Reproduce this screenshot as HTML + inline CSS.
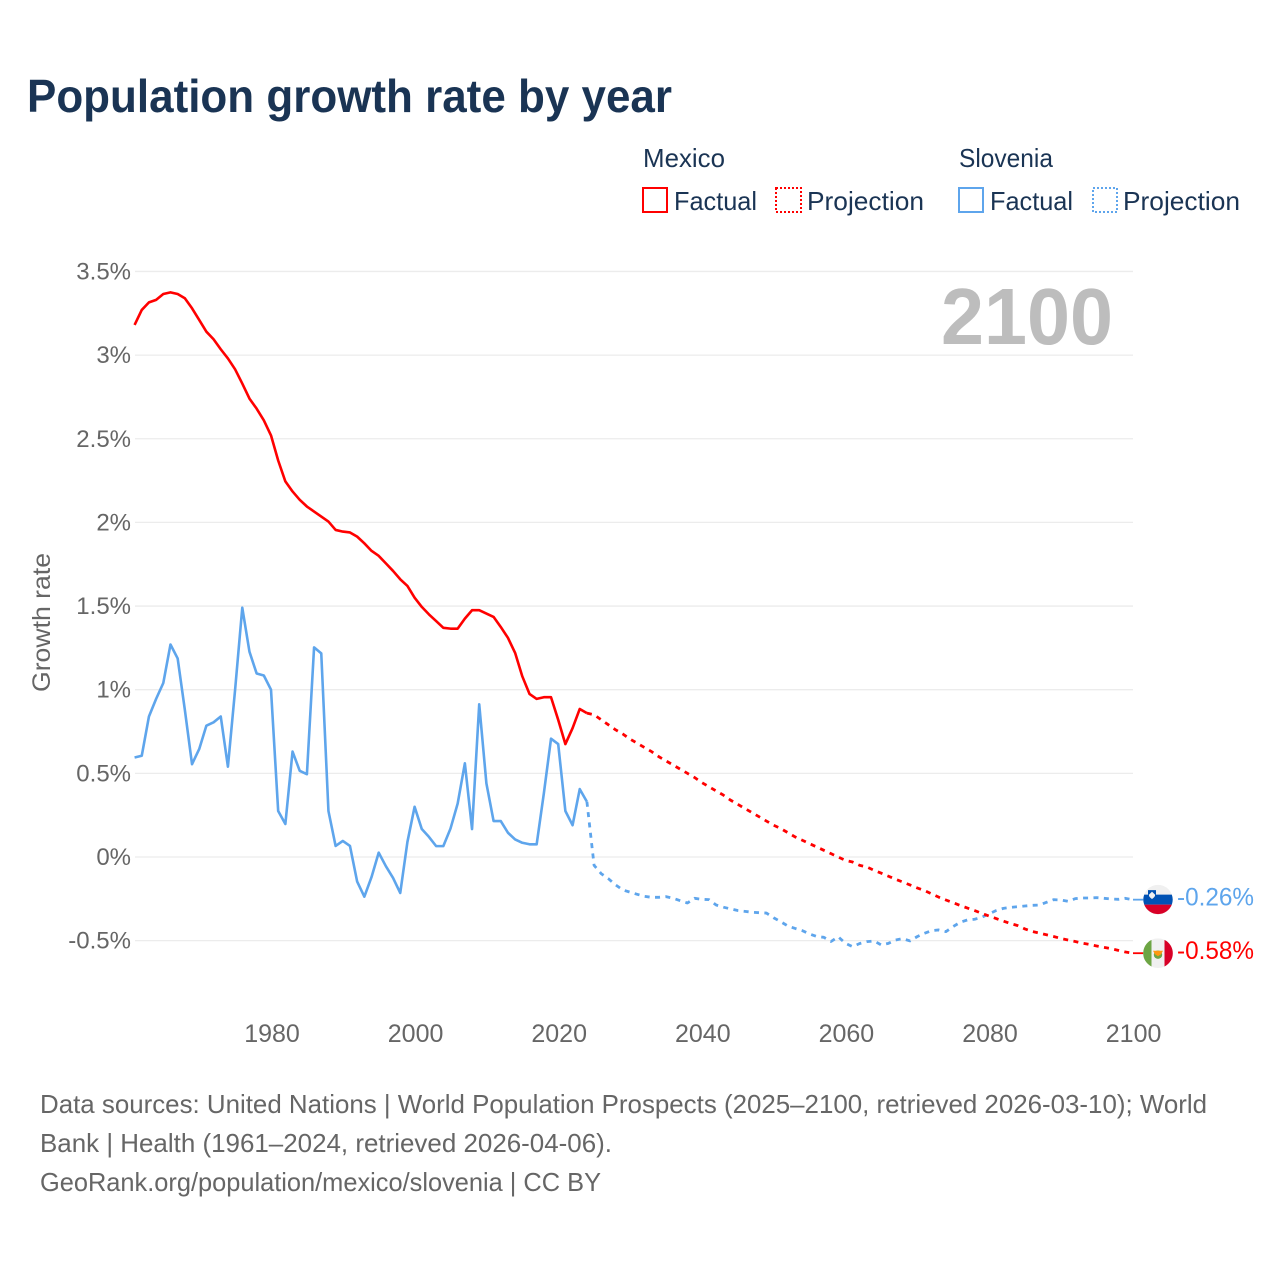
<!DOCTYPE html>
<html lang="en">
<head>
<meta charset="utf-8">
<title>Population growth rate by year</title>
<style>
html,body{margin:0;padding:0;background:#fff;}
svg{display:block;font-family:"Liberation Sans",sans-serif;}
</style>
</head>
<body>
<svg id="chart" xmlns="http://www.w3.org/2000/svg" width="1280" height="1280" viewBox="0 0 1280 1280">
  <rect x="0" y="0" width="1280" height="1280" fill="#fff"/>
  <text x="27" y="112" font-size="46" font-weight="700" fill="#1a3454" textLength="645" lengthAdjust="spacingAndGlyphs">Population growth rate by year</text>

  <g font-size="26" fill="#1a3454">
    <text x="643" y="167" textLength="82" lengthAdjust="spacingAndGlyphs">Mexico</text>
    <text x="959" y="167" textLength="94" lengthAdjust="spacingAndGlyphs">Slovenia</text>
    <g>
      <rect x="643" y="188" width="24" height="24" fill="none" stroke="#ff0000" stroke-width="2"/>
      <text x="674" y="210" textLength="83" lengthAdjust="spacingAndGlyphs">Factual</text>
    </g>
    <g>
      <rect x="776" y="188" width="25" height="24" fill="none" stroke="#ff0000" stroke-width="2" stroke-dasharray="2 2"/>
      <text x="807" y="210" textLength="117" lengthAdjust="spacingAndGlyphs">Projection</text>
    </g>
    <g>
      <rect x="959" y="188" width="24" height="24" fill="none" stroke="#5ea5ec" stroke-width="2"/>
      <text x="990" y="210" textLength="83" lengthAdjust="spacingAndGlyphs">Factual</text>
    </g>
    <g>
      <rect x="1093" y="188" width="24" height="24" fill="none" stroke="#5ea5ec" stroke-width="2" stroke-dasharray="2 2"/>
      <text x="1123" y="210" textLength="117" lengthAdjust="spacingAndGlyphs">Projection</text>
    </g>
  </g>

  <g id="grid"></g>
  <g id="yticks"></g>
  <g id="xticks"></g>

  <text transform="translate(50,622.5) rotate(-90)" text-anchor="middle" font-size="25" fill="#666" textLength="139" lengthAdjust="spacingAndGlyphs">Growth rate</text>
  <text x="941" y="344" font-size="80" font-weight="700" fill="#bdbdbd" textLength="172" lengthAdjust="spacingAndGlyphs">2100</text>

  <g id="series"></g>
  <g id="endmarks"></g>

  <g font-size="26" fill="#666">
    <text x="40" y="1113" textLength="1167" lengthAdjust="spacingAndGlyphs">Data sources: United Nations | World Population Prospects (2025–2100, retrieved 2026-03-10); World</text>
    <text x="40" y="1152" textLength="572" lengthAdjust="spacingAndGlyphs">Bank | Health (1961–2024, retrieved 2026-04-06).</text>
    <text x="40" y="1191" textLength="561" lengthAdjust="spacingAndGlyphs">GeoRank.org/population/mexico/slovenia | CC BY</text>
  </g>
</svg>
<script>
const yTickValues = [-0.5, 0, 0.5, 1, 1.5, 2, 2.5, 3, 3.5];
const yTickLabels = ["-0.5%", "0%", "0.5%", "1%", "1.5%", "2%", "2.5%", "3%", "3.5%"];
const xTickYears = [1980, 2000, 2020, 2040, 2060, 2080, 2100];
const factualStartYear = [1961];
const projectionStartYear = [2024];

const mexicoFactual = [
  3.18, 3.27, 3.315, 3.33, 3.365, 3.375, 3.365, 3.34, 3.28, 3.21,
  3.14, 3.095, 3.035, 2.98, 2.915, 2.83, 2.74, 2.68, 2.61, 2.52,
  2.37, 2.245, 2.185, 2.135, 2.095, 2.065, 2.035, 2.005, 1.955, 1.945,
  1.94, 1.915, 1.875, 1.83, 1.80, 1.755, 1.71, 1.66, 1.62, 1.55,
  1.495, 1.45, 1.41, 1.37, 1.365, 1.365, 1.425, 1.475, 1.475, 1.455,
  1.435, 1.375, 1.31, 1.22, 1.08, 0.975, 0.945, 0.955, 0.955, 0.82,
  0.675, 0.77, 0.885, 0.86
];
const mexicoProjection = [
  0.86, 0.85, 0.82, 0.79, 0.76, 0.735, 0.705, 0.68, 0.655, 0.63,
  0.60, 0.575, 0.55, 0.525, 0.50, 0.475, 0.445, 0.42, 0.395, 0.37,
  0.34, 0.315, 0.29, 0.265, 0.24, 0.215, 0.19, 0.17, 0.145, 0.12,
  0.10, 0.08, 0.06, 0.04, 0.02, 0, -0.02, -0.03, -0.05, -0.06,
  -0.08, -0.097, -0.115, -0.133, -0.15, -0.167, -0.185, -0.20, -0.22, -0.24,
  -0.257, -0.273, -0.29, -0.305, -0.32, -0.337, -0.353, -0.368, -0.383, -0.398,
  -0.41, -0.43, -0.445, -0.455, -0.465, -0.475, -0.487, -0.496, -0.505, -0.515,
  -0.523, -0.532, -0.54, -0.548, -0.558, -0.568, -0.575
];
const sloveniaFactual = [
  0.595, 0.605, 0.84, 0.945, 1.04, 1.27, 1.187, 0.88, 0.555, 0.645,
  0.785, 0.805, 0.84, 0.54, 1.0, 1.49, 1.227, 1.097, 1.085, 1.0,
  0.275, 0.197, 0.63, 0.515, 0.495, 1.253, 1.217, 0.275, 0.066, 0.096,
  0.066, -0.147, -0.237, -0.12, 0.026, -0.055, -0.125, -0.215, 0.09, 0.30,
  0.167, 0.12, 0.065, 0.065, 0.17, 0.32, 0.56, 0.167, 0.913, 0.44,
  0.215, 0.215, 0.145, 0.105, 0.085, 0.076, 0.076, 0.38, 0.707, 0.675,
  0.275, 0.19, 0.406, 0.33
];
const sloveniaProjection = [
  0.33, -0.05, -0.10, -0.13, -0.167, -0.197, -0.21, -0.223, -0.235, -0.241,
  -0.241, -0.237, -0.247, -0.261, -0.275, -0.247, -0.253, -0.255, -0.287, -0.30,
  -0.31, -0.32, -0.325, -0.33, -0.333, -0.335, -0.363, -0.387, -0.413, -0.427,
  -0.44, -0.46, -0.475, -0.48, -0.505, -0.477, -0.516, -0.536, -0.517, -0.506,
  -0.502, -0.526, -0.516, -0.496, -0.488, -0.502, -0.476, -0.456, -0.44, -0.436,
  -0.446, -0.416, -0.39, -0.376, -0.372, -0.36, -0.34, -0.32, -0.307, -0.301,
  -0.297, -0.293, -0.289, -0.287, -0.271, -0.255, -0.257, -0.265, -0.249, -0.245,
  -0.245, -0.243, -0.247, -0.251, -0.253, -0.247, -0.255
];
const endValueLabels = ["-0.58%", "-0.26%"];

const NS = "http://www.w3.org/2000/svg";
const RED = "#ff0000";
const BLUE = "#5ea5ec";
function xScale(year) { return 271 + (year - 1980) * 7.18; }
function yScale(value) { return 857 - value * 167.3; }
function make(tag, attrs, parent, text) {
  const el = document.createElementNS(NS, tag);
  for (const k in attrs) el.setAttribute(k, attrs[k]);
  if (text !== undefined) el.textContent = text;
  parent.appendChild(el);
  return el;
}
function linePath(values, startYear) {
  return values.map(function (v, i) {
    return (i ? "L" : "M") + xScale(startYear + i).toFixed(2) + " " + yScale(v).toFixed(2);
  }).join("");
}

const grid = document.getElementById("grid");
const yticks = document.getElementById("yticks");
const xticks = document.getElementById("xticks");
const series = document.getElementById("series");
const endmarks = document.getElementById("endmarks");

yTickValues.forEach(function (v, i) {
  const line = make("line", { x1: 135, x2: 1133, y1: yScale(v), y2: yScale(v), stroke: "#ececec", "stroke-width": 1.3 }, grid);
  
  
  const label = make("text", { x: 131, y: yScale(v) + 8, "text-anchor": "end", "font-size": 24, fill: "#666" }, yticks, yTickLabels[i]);
  
  
});

xTickYears.forEach(function (yr) {
  const label = make("text", { x: xScale(yr) + 1, y: 1042, "text-anchor": "middle", "font-size": 25, fill: "#666" }, xticks, String(yr));
  
  
});

function drawSeries(factual, projection, color) {
  const projLine = make("path", { d: linePath(projection, projectionStartYear[0]), fill: "none", stroke: color, "stroke-width": 2.8, "stroke-dasharray": "5 5.4", "stroke-linejoin": "round" }, series);
  
  
  const factLine = make("path", { d: linePath(factual, factualStartYear[0]), fill: "none", stroke: color, "stroke-width": 2.6, "stroke-linejoin": "round" }, series);
  
  
}
drawSeries(sloveniaFactual, sloveniaProjection, BLUE);
drawSeries(mexicoFactual, mexicoProjection, RED);

function drawEnd(value, color, label, stripes) {
  const y = yScale(value);
  const link = make("line", { x1: 1133, x2: 1144, y1: y, y2: y, stroke: color, "stroke-width": 1.8 }, endmarks);
  
  
  const flag = make("svg", { x: 1143, y: y - 15, width: 30, height: 30, viewBox: "0 0 30 30" }, endmarks);
  
  
  stripes(flag);
  const text = make("text", { x: 1177, y: y + 6, "font-size": 25, fill: color, textLength: 77, lengthAdjust: "spacingAndGlyphs" }, endmarks, label);
  
  
}
function slovenia(f) {
  make("circle", { cx: 15, cy: 15, r: 14.8, fill: "#f0f0f0" }, f);
  make("path", { d: "M1.2 10 H28.8 A14.8 14.8 0 0 1 28.8 20 H1.2 A14.8 14.8 0 0 1 1.2 10Z", fill: "#0052b4" }, f);
  make("path", { d: "M1.2 20 H28.8 A14.8 14.8 0 0 1 1.2 20Z", fill: "#d80027" }, f);
  make("path", { d: "M5 5.5 H13 V11 C13 14 9 15.5 9 15.5 C9 15.5 5 14 5 11Z", fill: "#0052b4" }, f);
  make("path", { d: "M6 10 L9 7 L12 10 V11 C11.5 13 9 14.3 9 14.3 C9 14.3 6.5 13 6 11Z", fill: "#f0f0f0" }, f);
}
function mexico(f) {
  make("circle", { cx: 15, cy: 15, r: 14.8, fill: "#f0f0f0" }, f);
  make("path", { d: "M8.5 1.7 A14.8 14.8 0 0 0 8.5 28.3Z", fill: "#6da544" }, f);
  make("path", { d: "M21.5 1.7 A14.8 14.8 0 0 1 21.5 28.3Z", fill: "#d80027" }, f);
  make("circle", { cx: 15, cy: 16.5, r: 4.2, fill: "#6da544" }, f);
  make("path", { d: "M10 12.5 H20 L18 16 L15 18 L12 16Z", fill: "#ff9811" }, f);
}
drawEnd(sloveniaProjection[sloveniaProjection.length - 1], BLUE, endValueLabels[1], slovenia);
drawEnd(mexicoProjection[mexicoProjection.length - 1], RED, endValueLabels[0], mexico);
</script>
</body>
</html>
